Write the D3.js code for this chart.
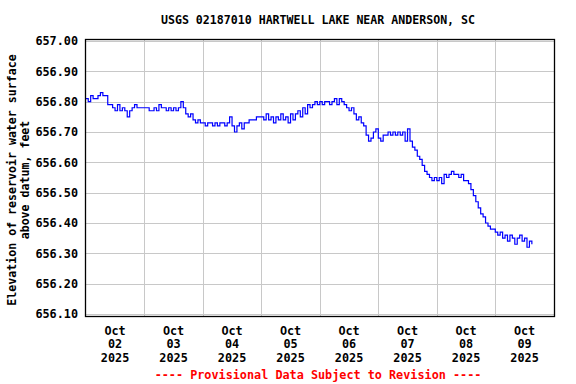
<!DOCTYPE html>
<html>
<head>
<meta charset="utf-8">
<script src="https://cdn.jsdelivr.net/npm/d3@7"></script>
<style>
  html, body { margin: 0; padding: 0; background: #fff; }
  svg { display: block; }
  text { font-family: "DejaVu Sans Mono", monospace; font-weight: bold; }
</style>
</head>
<body>
<svg id="chart" width="576" height="384"></svg>
<script>
const title = "USGS 02187010 HARTWELL LAKE NEAR ANDERSON, SC";
const yLabelLines = ["Elevation of reservoir water surface", "above datum, feet"];
const footer = "---- Provisional Data Subject to Revision ----";
const yTicks = [656.10, 656.20, 656.30, 656.40, 656.50, 656.60, 656.70, 656.80, 656.90, 657.00];
const xTickDays = ["2025-10-02", "2025-10-03", "2025-10-04", "2025-10-05", "2025-10-06", "2025-10-07", "2025-10-08", "2025-10-09"];
const startTime = "2025-10-02T00:00";
// hourly gage height (ft) starting Oct 02 00:00
const day1 = [656.81, 656.80, 656.82, 656.81, 656.81, 656.82, 656.83, 656.82, 656.82, 656.79, 656.79, 656.78,
              656.77, 656.79, 656.77, 656.78, 656.77, 656.75, 656.77, 656.78, 656.79, 656.78, 656.78, 656.78];
const day2 = [656.78, 656.78, 656.77, 656.77, 656.78, 656.77, 656.79, 656.78, 656.78, 656.77, 656.78, 656.77,
              656.78, 656.77, 656.78, 656.80, 656.78, 656.76, 656.75, 656.76, 656.74, 656.73, 656.74, 656.73];
const day3 = [656.73, 656.72, 656.73, 656.73, 656.72, 656.73, 656.72, 656.73, 656.73, 656.72, 656.73, 656.75,
              656.72, 656.70, 656.72, 656.73, 656.71, 656.73, 656.73, 656.74, 656.74, 656.74, 656.75, 656.75];
const day4 = [656.75, 656.74, 656.76, 656.74, 656.75, 656.73, 656.75, 656.74, 656.76, 656.74, 656.75, 656.73,
              656.76, 656.74, 656.76, 656.77, 656.75, 656.78, 656.76, 656.79, 656.78, 656.79, 656.80, 656.79];
const day5 = [656.80, 656.79, 656.80, 656.80, 656.79, 656.80, 656.81, 656.79, 656.81, 656.80, 656.79, 656.78,
              656.77, 656.78, 656.76, 656.74, 656.75, 656.73, 656.72, 656.69, 656.67, 656.68, 656.70, 656.71];
const day6 = [656.68, 656.67, 656.69, 656.69, 656.70, 656.69, 656.70, 656.69, 656.70, 656.69, 656.70, 656.67,
              656.71, 656.67, 656.65, 656.64, 656.62, 656.61, 656.59, 656.57, 656.56, 656.55, 656.54, 656.55];
const day7 = [656.54, 656.55, 656.53, 656.56, 656.55, 656.56, 656.57, 656.56, 656.56, 656.55, 656.56, 656.54,
              656.54, 656.53, 656.51, 656.49, 656.47, 656.45, 656.43, 656.42, 656.40, 656.39, 656.38, 656.38];
const day8 = [656.37, 656.36, 656.37, 656.35, 656.36, 656.34, 656.36, 656.35, 656.33, 656.35, 656.36, 656.34,
              656.35, 656.32, 656.34, 656.33];
const elevations = [].concat(day1, day2, day3, day4, day5, day6, day7, day8);

const svg = d3.select("#chart");
const t0 = d3.isoParse(startTime);
const data = elevations.map((v, i) => ({ t: d3.timeHour.offset(t0, i), v }));

const x = d3.scaleTime()
  .domain([d3.isoParse("2025-10-02T00:00"), d3.isoParse("2025-10-10T00:00")])
  .range([85.8, 553.8]);
const y = d3.scaleLinear().domain([656.10, 657.00]).range([314, 41]);

// grid
const grid = svg.append("g").attr("stroke", "#c8c8c8").attr("stroke-width", 1);
grid.selectAll("line.h").data(yTicks).join("line")
  .attr("x1", 85).attr("x2", 554)
  .attr("y1", d => Math.round(y(d)) + 0.5).attr("y2", d => Math.round(y(d)) + 0.5);
const dayDates = xTickDays.map(d => d3.isoParse(d + "T00:00")).slice(1);
grid.selectAll("line.v").data(dayDates).join("line")
  .attr("y1", 39).attr("y2", 316)
  .attr("x1", d => Math.round(x(d)) + 0.5).attr("x2", d => Math.round(x(d)) + 0.5);

// data line
const line = d3.line().x(d => x(d.t)).y(d => y(d.v)).curve(d3.curveStepAfter);
svg.append("path").datum(data)
  .attr("fill", "none").attr("stroke", "#0000ff").attr("stroke-width", 1.2)
  .attr("d", line);

// frame
svg.append("rect").attr("x", 85.5).attr("y", 39.5).attr("width", 469).attr("height", 277)
  .attr("fill", "none").attr("stroke", "#000").attr("stroke-width", 1.3);

// y axis labels
const yAxis = d3.axisLeft(y).tickValues(yTicks).tickFormat(d3.format(".2f")).tickSize(0).tickPadding(7);
const yg = svg.append("g").attr("transform", "translate(85,0)").call(yAxis);
yg.select(".domain").remove();
yg.selectAll("text").attr("font-size", "11.8px").attr("fill", "#000")
  .style("font-family", "'DejaVu Sans Mono', monospace").style("font-weight", "bold");

// x axis labels (centered at noon)
const xg = svg.append("g");
xTickDays.forEach(d => {
  const dt = d3.isoParse(d + "T12:00");
  const cx = x(dt);
  const lines = [d3.timeFormat("%b")(dt), d3.timeFormat("%d")(dt), d3.timeFormat("%Y")(dt)];
  lines.forEach((s, i) => {
    xg.append("text").attr("x", cx).attr("y", 335 + i * 13.3)
      .attr("text-anchor", "middle").attr("font-size", "11.8px").attr("fill", "#000").text(s);
  });
});

// title
svg.append("text").attr("x", 318).attr("y", 24).attr("text-anchor", "middle")
  .attr("font-size", "11.6px").attr("fill", "#000").text(title);

// y label
yLabelLines.forEach((s, i) => {
  svg.append("text")
    .attr("transform", `translate(${16 + i * 13},180) rotate(-90)`)
    .attr("text-anchor", "middle").attr("font-size", "11.6px").attr("fill", "#000").text(s);
});

// footer
svg.append("text").attr("x", 318).attr("y", 379).attr("text-anchor", "middle")
  .attr("font-size", "11.8px").attr("fill", "#ff0000").text(footer);
</script>
</body>
</html>
